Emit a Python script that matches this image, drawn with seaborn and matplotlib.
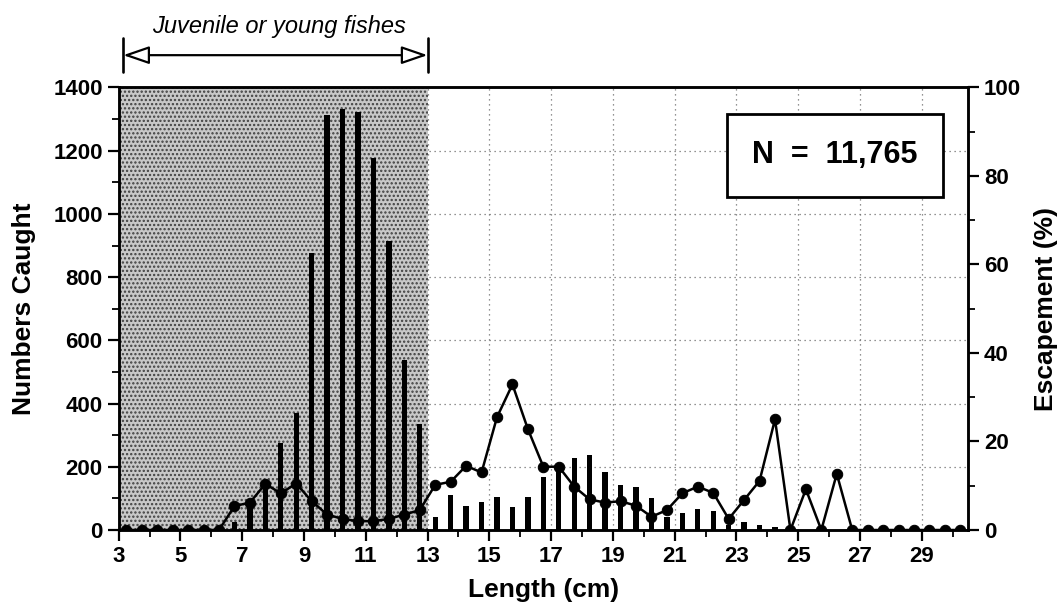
import matplotlib
matplotlib.use("Agg")
import matplotlib.pyplot as plt
import matplotlib.ticker as mticker
from matplotlib.transforms import blended_transform_factory
from matplotlib.patches import Rectangle
import seaborn as sns

# Length classes (cm, class mid-points)
lengths = [3.25, 3.75, 4.25, 4.75, 5.25, 5.75, 6.25, 6.75, 7.25, 7.75,
           8.25, 8.75, 9.25, 9.75, 10.25, 10.75, 11.25, 11.75, 12.25, 12.75,
           13.25, 13.75, 14.25, 14.75, 15.25, 15.75, 16.25, 16.75, 17.25, 17.75,
           18.25, 18.75, 19.25, 19.75, 20.25, 20.75, 21.25, 21.75, 22.25, 22.75,
           23.25, 23.75, 24.25, 24.75, 25.25, 25.75, 26.25, 26.75, 27.25, 27.75,
           28.25, 28.75, 29.25, 29.75, 30.25]

# Numbers caught per length class
numbers_caught = [0, 0, 0, 0, 0, 0, 5, 25, 75, 145,
                  276, 371, 876, 1313, 1331, 1321, 1176, 915, 539, 334,
                  40, 110, 76, 89, 103, 73, 105, 168, 191, 229,
                  236, 182, 142, 137, 100, 40, 55, 65, 60, 15,
                  25, 15, 10, 5, 0, 0, 0, 0, 0, 0,
                  0, 0, 0, 0, 0]

# Escapement (%) per length class
escapement = [0, 0, 0, 0, 0, 0, 0, 5.4, 6.2, 10.4,
              8.3, 10.5, 6.5, 3.5, 2.5, 2.0, 2.0, 2.5, 3.5, 4.5,
              10.2, 10.9, 14.5, 13.0, 25.5, 32.9, 22.8, 14.3, 14.3, 9.8,
              6.9, 6.2, 6.5, 5.5, 3.0, 4.5, 8.3, 9.8, 8.4, 2.5,
              6.8, 11.1, 25.0, 0, 9.2, 0, 12.7, 0, 0, 0,
              0, 0, 0, 0, 0]

x_ticks = [3, 5, 7, 9, 11, 13, 15, 17, 19, 21, 23, 25, 27, 29]
juvenile_limit = 13
total_n = "11,765"

sns.set_style("ticks")
plt.rcParams["font.family"] = ["Liberation Sans", "DejaVu Sans"]
plt.rcParams["hatch.linewidth"] = 1.1
for key in ("text.color", "axes.labelcolor", "xtick.color", "ytick.color"):
    plt.rcParams[key] = "black"

fig = plt.figure(figsize=(10.61, 6.13), dpi=100)
ax = fig.add_axes([0.1118, 0.1354, 0.8006, 0.7219])

# juvenile zone
ax.axvspan(3.0, juvenile_limit, facecolor="#c8c8c8", edgecolor="#404040",
           hatch="....", linewidth=0, zorder=0.8)

sns.barplot(x=lengths, y=numbers_caught, native_scale=True, color="black",
            width=0.34, errorbar=None, saturation=1, ax=ax, zorder=2,
            edgecolor="none")

ax2 = ax.twinx()
sns.lineplot(x=lengths, y=escapement, ax=ax2, color="black", marker="o",
             markersize=7.5, linewidth=1.8, markeredgecolor="black", zorder=3)

ax.set_xlim(3.0, 30.5)
ax.set_ylim(0, 1400)
ax2.set_ylim(0, 100)

ax.set_xticks(x_ticks)
ax.xaxis.set_minor_locator(mticker.MultipleLocator(1))
ax.set_yticks(range(0, 1401, 200))
ax.yaxis.set_minor_locator(mticker.MultipleLocator(100))
ax2.set_yticks(range(0, 101, 20))
ax2.yaxis.set_minor_locator(mticker.MultipleLocator(10))

ax.grid(True, which="major", color="#707070", linestyle=(0, (1, 3)), linewidth=0.9)
ax.set_axisbelow(True)

for a in (ax, ax2):
    a.tick_params(which="major", length=8, width=1.6, direction="out",
                  labelsize=16, colors="black")
    a.tick_params(which="minor", length=5, width=1.3, direction="out")
    for lbl in a.get_xticklabels() + a.get_yticklabels():
        lbl.set_fontweight("bold")
    for s in a.spines.values():
        s.set_linewidth(1.8)
        s.set_color("black")
    a.spines["top"].set_visible(True)
    a.spines["right"].set_visible(True)

ax.set_xlabel("Length (cm)", fontsize=19, fontweight="bold", labelpad=8)
ax.set_ylabel("Numbers Caught", fontsize=19, fontweight="bold", labelpad=12)
ax2.set_ylabel("Escapement (%)", fontsize=19, fontweight="bold", labelpad=9)

# juvenile range marker above the plot
trans = blended_transform_factory(ax.transData, ax.transAxes)
ax.annotate("", xy=(3.15, 1.073), xytext=(juvenile_limit, 1.073),
            xycoords=trans, textcoords=trans,
            arrowprops=dict(arrowstyle="<|-|>,head_length=1.6,head_width=0.55",
                            fc="white", ec="black", lw=1.6,
                            shrinkA=0, shrinkB=0), annotation_clip=False)
for xb in (3.15, juvenile_limit):
    ax.plot([xb, xb], [1.035, 1.112], transform=trans, color="black",
            lw=1.9, clip_on=False)
ax.text(8.2, 1.137, "Juvenile or young fishes", transform=trans,
        ha="center", va="center", fontsize=17, fontstyle="italic", color="black")

# sample size box
ax.add_patch(Rectangle((0.716, 0.7525), 0.254, 0.1875, transform=ax.transAxes,
                       facecolor="white", edgecolor="black", lw=2, zorder=5))
ax.text(0.843, 0.847, f"N  =  {total_n}", transform=ax.transAxes, ha="center",
        va="center", fontsize=22, fontweight="bold", color="black", zorder=6)

fig.savefig("out.png", dpi=100)
